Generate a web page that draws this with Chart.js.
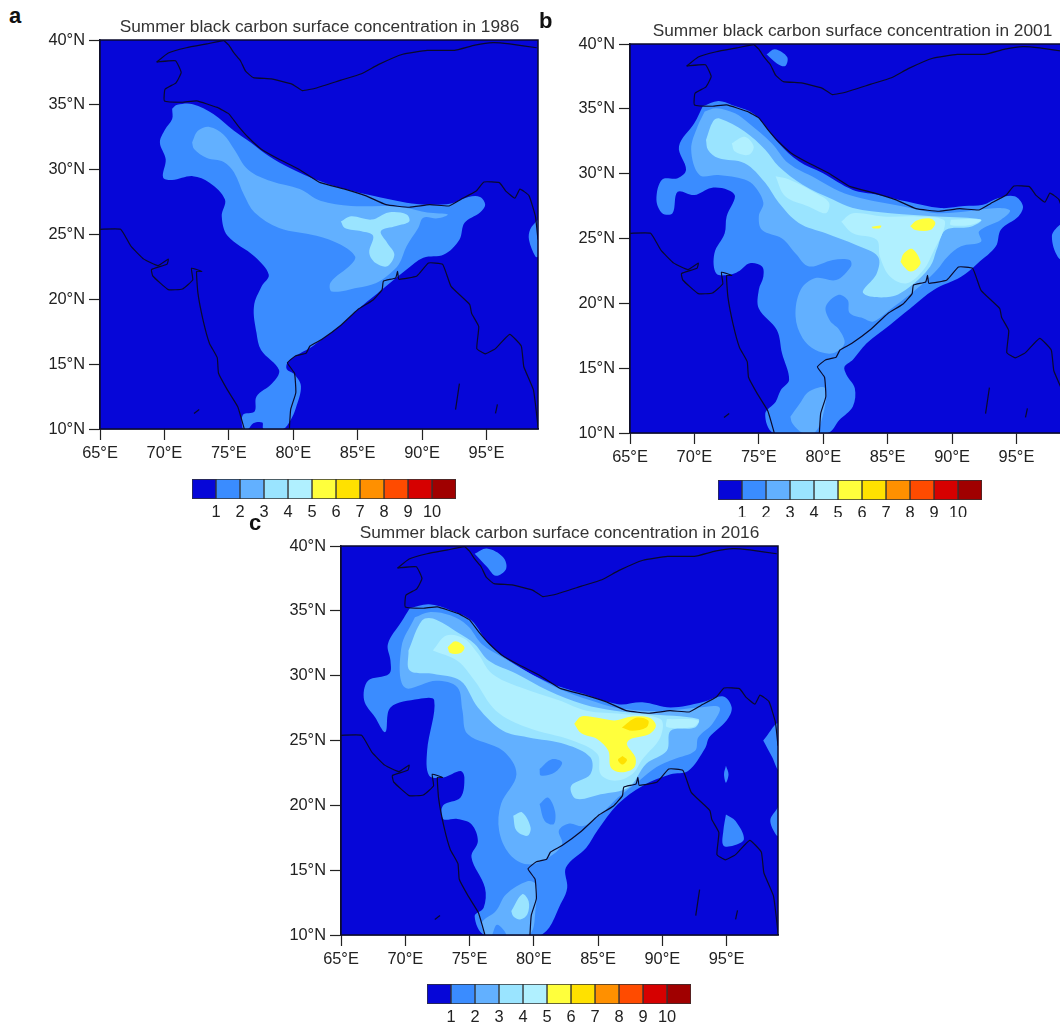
<!DOCTYPE html>
<html lang="en">
<head>
    <title>Summer black carbon surface concentration</title>
    <meta charset="utf-8">
    <script src="https://cdn.jsdelivr.net/npm/chart.js@4.4.0/dist/chart.umd.js"></script>
    <style>
        html, body { margin: 0; padding: 0; background: #fff; }
        body { position: relative; width: 1060px; height: 1025px; overflow: hidden; }
        canvas { position: absolute; filter: blur(0.5px); }
        .letter { position: absolute; font: bold 22px "Liberation Sans", sans-serif; color: #111; line-height: 22px; }
        .title { position: absolute; width: 440px; margin-left: -220px; text-align: center; font: 17.3px "Liberation Sans", sans-serif; color: #333; line-height: 20px; filter: blur(0.3px); white-space: nowrap; }
    </style>
</head>

<body>
    <canvas id="mapA"></canvas>
    <canvas id="mapB"></canvas>
    <canvas id="mapC"></canvas>
    <canvas id="barA"></canvas>
    <canvas id="barB"></canvas>
    <canvas id="barC"></canvas>
    <div class="title" style="left:319.5px;top:16px">Summer black carbon surface concentration in 1986</div>
    <div class="title" style="left:852.5px;top:20px">Summer black carbon surface concentration in 2001</div>
    <div class="title" style="left:559.5px;top:522px">Summer black carbon surface concentration in 2016</div>
    <div class="letter" style="left:9px;top:5px">a</div>
    <div class="letter" style="left:539px;top:10px">b</div>
    <div class="letter" style="left:249px;top:512px">c</div>

    <script>
        // Colour bar
        const levels = [1, 2, 3, 4, 5, 6, 7, 8, 9, 10];
        const levelColors = ['#0606d8', '#3a8cff', '#62b0ff', '#9ae4ff', '#b0f0ff', '#ffff3c', '#ffe100', '#ff9000', '#ff4b00', '#d60000', '#a00000'];

        // Axis ticks
        const lonTicks = [65, 70, 75, 80, 85, 90, 95];
        const latTicks = [10, 15, 20, 25, 30, 35, 40];

        // Map domain, [lon, lat]
        const domain = [[65, 10], [99, 10], [99, 40], [65, 40], [65, 10]];

        // Borders and coasts, [lon, lat]
        const northLine = [[69.4, 38.3], [70.3, 39], [71.7, 39.4], [73.3, 39.7], [74.6, 39.95], [75, 39.6], [75.4, 39], [75.9, 38.4], [76.3, 37.6], [76.9, 37.1], [78.3, 37], [79.9, 36.6], [80.7, 36.1], [81.8, 36.3], [83.7, 36.9], [85.3, 37.4], [86.6, 38.1], [88.5, 38.9], [90.4, 39.2], [92.5, 39.2], [94.1, 39.6], [95.5, 39.8], [96.8, 39.7], [98.9, 39.4]];
        const himalayaLine = [[69.4, 38.3], [70.86, 38.4], [71.3, 37.5], [70.9, 36.7], [70.05, 36.2], [70, 35.3], [71.4, 35.2], [72.5, 35.3], [74.1, 34.8], [75, 34.3], [75.7, 33.4], [76.5, 32.5], [77.5, 31.6], [78.9, 30.8], [80.5, 30], [82.1, 29], [84, 28.5], [85.6, 28], [87.2, 27.3], [89, 27.1], [90.6, 27.3], [92.1, 27.2], [93, 27.7], [94.2, 28.35], [94.8, 29.05], [96, 29], [96.5, 28.35], [97.2, 27.8], [97.6, 28.5], [98.3, 28], [98.8, 26.4], [99, 24.6]];
        const westCoast = [[65, 25.4], [66.6, 25.4], [67.4, 24.1], [68.4, 23.1], [69.5, 22.6], [70.3, 23.1], [70.2, 22.7], [69, 22.3], [69.1, 21.8], [70.3, 20.75], [71.4, 20.8], [72.2, 21.5], [72.1, 22.4], [72.9, 22.15], [72.5, 22.15], [72.6, 20.5], [73, 18.4], [73.5, 16.6], [74.1, 15.5], [74.2, 14.3], [74.9, 13], [75.7, 11.7], [76.2, 10]];
        const eastCoast = [[79.7, 10], [79.8, 11.5], [80.2, 12.8], [80.1, 14.3], [79.55, 15.1], [80.2, 15.65], [81, 15.85], [81.3, 16.4], [82.2, 16.9], [83.7, 18], [85, 19.2], [86.2, 19.95], [86.9, 20.75], [87, 21.4], [87.95, 21.65], [88.1, 22.15], [88.2, 21.55], [89.6, 21.8], [90.5, 22.8], [91.6, 22.7], [92.25, 21], [93.7, 19.6], [93.85, 18.9], [94.4, 17.9], [94.25, 16.2], [94.9, 15.8], [95.7, 16.2], [96.8, 17.3], [97.7, 16.4], [97.9, 14.8], [98.65, 13], [99, 10.2]];
        const andamanLine = [[92.9, 13.5], [92.6, 11.5]];
        const cocoLine = [[95.85, 11.9], [95.7, 11.2]];
        const lakshadweepLine = [[72.3, 11.2], [72.7, 11.5]];

        // 1986 contours, [lon, lat]
        const a1Main = [[70.6, 34.7], [71, 35], [72.2, 35.05], [73.8, 34.3], [75.4, 33], [76.7, 32.1], [78.1, 31.05], [79.7, 30.15], [82.1, 29.1], [84, 28.5], [86.1, 28], [88.8, 27.45], [90.4, 27.3], [92.25, 27.4], [93.6, 27.9], [94.5, 27.9], [94.9, 27.3], [94.5, 26.7], [93.3, 25.9], [92.9, 24.6], [91.7, 23.45], [90.1, 23.2], [88.8, 22.3], [87.2, 21], [86.6, 20.5], [85, 19.2], [83.7, 18], [82.2, 16.9], [81.3, 16.25], [80.2, 15.65], [79.55, 15.1], [79.5, 14.6], [80.1, 14.2], [80.6, 13.3], [80.2, 11.6], [79.8, 10.7], [79.2, 10], [77.7, 10], [77.6, 10.5], [76.9, 10.45], [76.5, 10], [76.1, 10], [76.1, 11.1], [77, 11.35], [77.15, 12.5], [78.35, 13.5], [78.9, 14.55], [77.5, 16.1], [77.15, 17.4], [76.95, 19.45], [77.55, 21], [78.1, 21.9], [77, 23.3], [74.9, 24.9], [74.45, 26.4], [74.7, 27.7], [73.5, 29], [72.2, 29.5], [70.6, 29.2], [69.9, 29.4], [70.1, 30.8], [69.65, 32.1], [70.05, 33.1], [70.6, 33.9]];
        const a1East = [[99, 26.15], [98.4, 25.4], [98.3, 24.6], [98.8, 23.3], [99, 23.3]];
        const a2Main = [[72.15, 32.1], [72.6, 33], [73.5, 33.3], [74.6, 32.7], [75.4, 31.6], [76.5, 30], [78.3, 29.1], [80.5, 28.5], [82.1, 27.6], [84.5, 27.2], [87.4, 27.2], [88.8, 27.05], [90.4, 26.7], [92, 26.55], [91.2, 26.25], [90.1, 26.3], [89.7, 25.5], [88.8, 24.1], [88.2, 22.7], [87.4, 21.9], [86.4, 21.25], [85, 20.9], [83, 20.6], [82.9, 21.3], [84.5, 22.7], [84.8, 23.3], [83.7, 24.2], [81.8, 24.9], [78.9, 25.5], [77, 26.7], [76.2, 28], [75.4, 29.8], [74.6, 30.6], [73.3, 30.9], [72.3, 31.6]];
        const a3Main = [[83.7, 26], [84.5, 26.4], [86.1, 26.15], [87.4, 26.7], [88.8, 26.55], [89, 26], [88, 25.65], [86.8, 25.25], [87.3, 24.35], [87.85, 23.45], [87.3, 22.55], [86.4, 22.8], [85.9, 23.6], [86.2, 24.9], [85.3, 25.25], [84, 25.5]];

        // 2001 contours
        const b1Main = [[70.65, 35.2], [71.85, 35.6], [72.9, 35.3], [74.7, 34.55], [76.55, 32.35], [78.1, 30.95], [79.95, 30.05], [82.3, 28.75], [84.15, 28.4], [86.5, 27.85], [89.1, 27.35], [90.95, 27.5], [92.4, 27.6], [93.55, 28.1], [94.85, 28.25], [95.5, 27.5], [95.15, 26.7], [93.8, 25.7], [93.4, 24.4], [92, 23.1], [90.7, 22.05], [88.6, 21.05], [86.75, 19.6], [85.2, 18.35], [83.35, 16.9], [82.3, 15.65], [81.65, 15.1], [81.8, 14.5], [82.45, 13.45], [82.3, 12.05], [81.25, 11], [80.35, 10], [76.15, 10], [75.5, 11.5], [76.3, 12.4], [76.7, 13.3], [77.35, 14.1], [76.8, 16.15], [76.4, 17.95], [75, 19.6], [75, 21.05], [75.35, 22.05], [75.25, 22.85], [74.3, 23.1], [73.4, 22.45], [72.75, 22.2], [71.7, 22.3], [71.55, 23.85], [72.35, 25.4], [72.5, 26.7], [73.15, 28.25], [72.6, 28.75], [71.3, 28.9], [70, 28.35], [68.7, 28.6], [68.3, 26.95], [67.5, 26.95], [67.05, 28], [67.5, 29.55], [68.7, 29.65], [69.35, 30.3], [68.8, 32.1], [70, 33.9]];
        const b1North = [[75.6, 39.2], [76.25, 39.6], [77.2, 39], [77.05, 38.3], [76.4, 38.5]];
        const b1East = [[99, 26.4], [98.2, 25.9], [97.75, 25.15], [98.2, 23.6], [99, 23.2]];
        const b2Main = [[70.8, 34.8], [71.7, 35.05], [73.15, 34.65], [74.2, 33.9], [76, 32.35], [77.3, 30.8], [79.4, 29.65], [81.25, 28.65], [82.95, 28.1], [84.65, 27.75], [86.75, 27.35], [88.85, 26.95], [91.2, 27.1], [93.55, 27.35], [94.5, 27.15], [93.8, 26.45], [92.1, 25.55], [92.25, 24.75], [90.7, 24.4], [89.65, 23.6], [88.85, 22.6], [88.05, 21.8], [86.5, 20.5], [85.3, 19.6], [83.9, 18.6], [83.1, 18.85], [82.05, 19.25], [81.9, 20.25], [81.15, 20.65], [80.2, 19.75], [80.5, 18.7], [81.25, 17.95], [81.65, 16.9], [80.75, 16.15], [79.4, 16.4], [78.4, 17.3], [77.85, 19], [78.25, 21.05], [79.4, 21.95], [81, 21.8], [82.15, 22.85], [82.05, 23.35], [80.75, 23.35], [78.9, 22.85], [77.85, 23.85], [76.8, 25], [75.25, 25.65], [75, 26.7], [75.35, 27.75], [74.7, 29], [73.9, 29.55], [71.85, 29.9], [70.4, 29.9], [69.75, 31.85], [70.25, 33.65]];
        const b2South = [[77.45, 11.25], [78.1, 12.15], [78.9, 13.2], [80.15, 13.45], [79.95, 11.25], [79.3, 10], [78.4, 10], [77.6, 10.75]];
        const b3Main = [[70.9, 32.6], [71.45, 34.05], [71.95, 34.25], [73.9, 33.25], [75.5, 31.85], [76.55, 30.55], [78.4, 29.15], [80.75, 28], [82.3, 27.35], [85.2, 26.95], [88.85, 26.7], [92.25, 26.45], [91.45, 25.9], [89.5, 25.65], [88.85, 24.25], [88.3, 22.85], [86.75, 21.3], [85.2, 20.5], [83.1, 20.8], [84.15, 22.3], [84.25, 23.6], [82.55, 24.5], [80.2, 25.4], [78.1, 26.2], [76.55, 27.75], [75.5, 29.3], [73.9, 30.8], [71.85, 31.2], [71.05, 31.85]];
        const b4West = [[72.9, 32.35], [73.9, 32.85], [74.6, 32.1], [74.2, 31.45], [73.15, 31.7]];
        const b4Ganges = [[76.3, 29.8], [77.35, 29.55], [79.4, 28.5], [80.45, 27.75], [80.2, 26.95], [78.9, 27.45], [77.05, 28.25]];
        const b4Bihar = [[81.4, 26.3], [82.3, 26.95], [84.65, 26.7], [87.3, 26.7], [89.35, 26.45], [89.35, 25.65], [88.6, 24.1], [87.8, 22.6], [86.5, 21.55], [85.2, 22.05], [84.4, 23.6], [84.15, 24.9], [82.3, 25.4]];
        const b4Assam = [[89.9, 26.45], [92.25, 26.45], [91.45, 26.05], [89.9, 26.05]];
        const b5North = [[86.75, 25.95], [87.3, 26.4], [88.3, 26.55], [88.7, 26.2], [88.3, 25.65], [87.15, 25.65]];
        const b5South = [[86, 23.2], [86.25, 23.85], [86.9, 24.2], [87.55, 23.2], [87.3, 22.7], [86.75, 22.45], [86.25, 22.85]];
        const b5Small = [[83.75, 25.9], [84.5, 26], [84.4, 25.8], [83.85, 25.8]];

        // 2016 contours
        const c1Main = [[70.35, 35.2], [71.85, 35.5], [73.5, 35.05], [75.15, 34.25], [76.5, 32.45], [78.65, 30.8], [81.1, 29.5], [83.85, 28.6], [86.55, 27.8], [88.45, 27.95], [90.65, 27.55], [93.1, 27.95], [94.75, 28.4], [95.4, 27.55], [95, 26.55], [93.65, 25.25], [93.35, 24.45], [92, 22.65], [90.65, 22.4], [88.45, 21.5], [86.55, 20.1], [84.95, 18.05], [84.1, 16.75], [82.5, 15.2], [82.6, 13.65], [82.2, 12.6], [80.55, 10], [76.2, 10], [75.4, 11.45], [76.1, 12.1], [76.2, 13.65], [75.15, 16], [75.65, 17.25], [75.15, 18.55], [74.05, 18.95], [72.95, 18.95], [72.95, 20], [74.3, 20.6], [74.6, 22.15], [74.3, 22.65], [72.95, 22.15], [71.85, 22.3], [71.7, 24.2], [72.25, 28.1], [71.05, 28.2], [68.85, 27.55], [68.45, 25.65], [67.65, 26.8], [66.8, 28.1], [67.1, 29.6], [68.75, 30.15], [68.85, 31.15], [68.65, 32.45], [69.7, 34.15]];
        const c1North = [[75.4, 39.4], [76.35, 39.8], [77.6, 39.15], [77.85, 38.25], [77.05, 37.7], [76.35, 38.4]];
        const c1East = [[97.85, 25], [99, 26.3], [99, 22.8], [98.55, 23.7]];
        const c1EastLow = [[99, 19.85], [98.4, 18.8], [99, 17.65]];
        const c1Sliver = [[94.95, 23.05], [95.15, 22.4], [94.95, 21.75], [94.8, 22.4]];
        const c1Burma = [[94.95, 19.3], [95.7, 18.8], [96.35, 17.4], [95.55, 16.9], [94.75, 16.9], [94.75, 18.05]];
        const c2Main = [[70.75, 34.5], [71.85, 34.9], [73.5, 34.65], [74.85, 33.85], [75.95, 32.45], [77.6, 31.4], [79.75, 30.15], [81.95, 29], [84.4, 28.1], [86.3, 27.55], [88.45, 27.3], [90.35, 27.3], [92.8, 27.55], [94.45, 27.55], [93.9, 26.3], [92.8, 25.25], [92.55, 24.2], [90.9, 23.55], [89.55, 22.95], [88.2, 21.9], [86.55, 20.6], [85.2, 19.3], [83.85, 18.4], [82.75, 18.6], [81.95, 18.05], [82.2, 17], [81.1, 15.95], [79.5, 15.45], [78.1, 16.25], [77.3, 18.05], [77.45, 20.1], [78.65, 22.4], [77.6, 24.2], [74.85, 25.5], [74.45, 27.3], [74.05, 29.1], [72.4, 29.6], [69.95, 29.1], [69.7, 32.2]];
        const c2South = [[76.2, 10], [75.95, 10.95], [77.05, 11.85], [77.85, 13.15], [79.5, 14.15], [80.15, 13.9], [80.15, 12.1], [79.6, 10]];
        const c1HoleSouth = [[76.75, 10], [77.15, 10.8], [77.85, 10]];
        const c1HoleCentral = [[80.45, 22.8], [81.4, 23.55], [82.2, 23.3], [81.65, 22.55], [80.55, 22.3]];
        const c1HoleDeccan = [[80.45, 20.1], [81.1, 20.6], [81.65, 19.55], [81.55, 18.55], [80.85, 18.8]];
        const c3Main = [[70.25, 31.95], [71.3, 34.25], [72.15, 34.4], [74.05, 33.35], [75.4, 32.45], [76.5, 31.15], [78.65, 30.15], [81.1, 28.85], [83.85, 27.8], [86.3, 27.3], [88.75, 27.05], [92.8, 26.65], [92.55, 26], [90.65, 25.75], [90.35, 24.2], [88.75, 23.2], [87.4, 21.4], [85.2, 20.85], [83.3, 20.5], [82.9, 21.5], [84.4, 22.4], [84.4, 23.7], [82.5, 24.7], [79.5, 25.25], [77.6, 25.75], [75.65, 27.55], [74.3, 29.6], [72.15, 30.15], [70.35, 30.4]];
        const c3Deccan = [[78.4, 19.2], [79.1, 19.45], [79.75, 18.3], [79.5, 17.65], [78.65, 18.05]];
        const c3South = [[78.25, 11.85], [79.1, 13.15], [79.6, 12.6], [79.5, 11.6], [78.95, 11.2], [78.4, 11.45]];
        const c4Main = [[72.15, 31.95], [73.2, 33.1], [74.6, 32.85], [75.65, 31.7], [76.75, 30.15], [78.95, 29.1], [81.95, 28.1], [84.1, 27.3], [86.85, 27.05], [89.85, 26.65], [89.85, 25.25], [88.45, 23.55], [87.65, 22.4], [86.3, 21.9], [85.2, 22.4], [84.95, 23.95], [83, 25], [79.5, 26], [77.05, 27.3], [75.4, 29.6], [74.05, 31.15]];
        const c4Assam = [[90.35, 26.65], [92.8, 26.55], [92.4, 26.05], [90.35, 26.05]];
        const c5Main = [[83.15, 26.3], [83.7, 26.85], [84.95, 26.75], [86.3, 26.55], [87.65, 26.85], [89, 26.75], [89.5, 26.15], [89, 25.5], [87.5, 25.1], [87.25, 24.7], [87.9, 23.7], [87.8, 22.9], [86.85, 22.55], [86, 22.9], [85.8, 24.2], [84.95, 25.1], [83.7, 25.55]];
        const c5West = [[73.3, 32.2], [73.9, 32.65], [74.6, 32.2], [74.3, 31.75], [73.5, 31.75]];
        const c6North = [[86.85, 26], [87.95, 26.75], [88.9, 26.55], [88.75, 26], [87.65, 25.75]];
        const c6South = [[86.9, 23.8], [87.25, 23.5], [86.9, 23.15], [86.55, 23.5]];

        // [contour level, shape], painted in this order
        const layersA = [[1, a1Main], [1, a1East], [2, a2Main], [3, a3Main]];
        const layersB = [[1, b1Main], [1, b1North], [1, b1East], [2, b2Main], [2, b2South], [3, b3Main], [4, b4West], [4, b4Ganges], [4, b4Bihar], [4, b4Assam], [5, b5North], [5, b5South], [5, b5Small]];
        const layersC = [[1, c1Main], [1, c1North], [1, c1East], [1, c1EastLow], [1, c1Sliver], [1, c1Burma], [2, c2Main], [2, c2South], [1, c1HoleSouth], [1, c1HoleCentral], [1, c1HoleDeccan], [3, c3Main], [3, c3Deccan], [3, c3South], [4, c4Main], [4, c4Assam], [5, c5Main], [5, c5West], [6, c6North], [6, c6South]];
        const lines = [northLine, himalayaLine, westCoast, eastCoast, andamanLine, cocoLine, lakshadweepLine];

        const fontFamily = '"Liberation Sans", Arial, sans-serif';
        const inkColor = '#222';

        const toPoints = shape => shape.map(p => ({ x: p[0], y: p[1] }));

        function fillDataset(shape, color, tension) {
            return {
                data: toPoints(shape.concat([shape[0]])),
                showLine: true,
                fill: 'shape',
                backgroundColor: color,
                borderWidth: 0,
                pointRadius: 0,
                tension: tension,
            };
        }

        function lineDataset(shape, width, tension, clip) {
            return {
                data: toPoints(shape),
                showLine: true,
                fill: false,
                borderColor: '#0a0a2c',
                borderWidth: width,
                pointRadius: 0,
                tension: tension,
                clip: clip,
            };
        }

        function drawMap(id, layers, box) {
            const canvas = document.getElementById(id);
            canvas.style.left = box.left + 'px';
            canvas.style.top = box.top + 'px';
            canvas.width = box.width;
            canvas.height = 479;

            const datasets = [fillDataset(domain, levelColors[0], 0)];
            layers.forEach(layer => datasets.push(fillDataset(layer[1], levelColors[layer[0]], 0.35)));
            lines.forEach(line => datasets.push(lineDataset(line, 1.2, 0.12)));
            datasets.push(lineDataset(domain, 1.5, 0, false));
            // Chart.js paints the first dataset last
            datasets.forEach((d, i) => { d.order = datasets.length - i; });

            const tickFont = { family: fontFamily, size: 16.4 };
            const axisGrid = { drawOnChartArea: false, tickLength: 11, color: inkColor, tickWidth: 1.2 };

            new Chart(canvas, {
                type: 'scatter',
                data: { datasets: datasets },
                options: {
                    responsive: false,
                    animation: false,
                    layout: { padding: { top: 40, right: box.right } },
                    plugins: {
                        legend: { display: false },
                        tooltip: { enabled: false },
                    },
                    scales: {
                        x: {
                            type: 'linear',
                            min: 65,
                            max: 99,
                            afterFit: scale => { scale.height = 50; },
                            afterBuildTicks: scale => { scale.ticks = lonTicks.map(v => ({ value: v })); },
                            border: { color: inkColor, width: 1.5 },
                            grid: axisGrid,
                            ticks: { font: tickFont, color: inkColor, padding: 4, maxRotation: 0, autoSkip: false, callback: v => v + '°E' },
                        },
                        y: {
                            type: 'linear',
                            min: 10,
                            max: 40,
                            afterFit: scale => { scale.width = 60; },
                            afterBuildTicks: scale => { scale.ticks = latTicks.map(v => ({ value: v })); },
                            border: { color: inkColor, width: 1.5 },
                            grid: axisGrid,
                            ticks: { font: tickFont, color: inkColor, padding: 4, autoSkip: false, callback: v => v + '°N' },
                        },
                    },
                },
            });
        }

        function drawColorBar(id, left, top, height) {
            const canvas = document.getElementById(id);
            canvas.style.left = (left - 20) + 'px';
            canvas.style.top = top + 'px';
            canvas.width = 304;
            canvas.height = height;

            new Chart(canvas, {
                type: 'bar',
                data: {
                    labels: [''],
                    datasets: levelColors.map(color => ({
                        data: [1],
                        backgroundColor: color,
                        borderColor: '#333',
                        borderWidth: 1,
                        borderSkipped: false,
                        barPercentage: 1,
                        categoryPercentage: 1,
                    })),
                },
                options: {
                    indexAxis: 'y',
                    responsive: false,
                    animation: false,
                    layout: { padding: { left: 20, right: 20 } },
                    plugins: { legend: { display: false }, tooltip: { enabled: false } },
                    scales: {
                        x: {
                            type: 'linear',
                            stacked: true,
                            min: 0,
                            max: levelColors.length,
                            afterFit: scale => { scale.height = height - 20; },
                            afterBuildTicks: scale => { scale.ticks = levels.map(v => ({ value: v })); },
                            border: { display: false },
                            grid: { display: false, drawTicks: false },
                            ticks: { font: { family: fontFamily, size: 16.4 }, color: inkColor, padding: 4, maxRotation: 0, autoSkip: false },
                        },
                        y: { stacked: true, display: false },
                    },
                },
            });
        }

        drawMap('mapA', layersA, { left: 40, top: 0, width: 559, right: 61 });
        drawMap('mapB', layersB, { left: 570, top: 4, width: 565, right: 67 });
        drawMap('mapC', layersC, { left: 281, top: 506, width: 557, right: 60 });
        drawColorBar('barA', 192, 479, 38);
        drawColorBar('barB', 718, 480, 37);
        drawColorBar('barC', 427, 984, 41);
    </script>
</body>
</html>
